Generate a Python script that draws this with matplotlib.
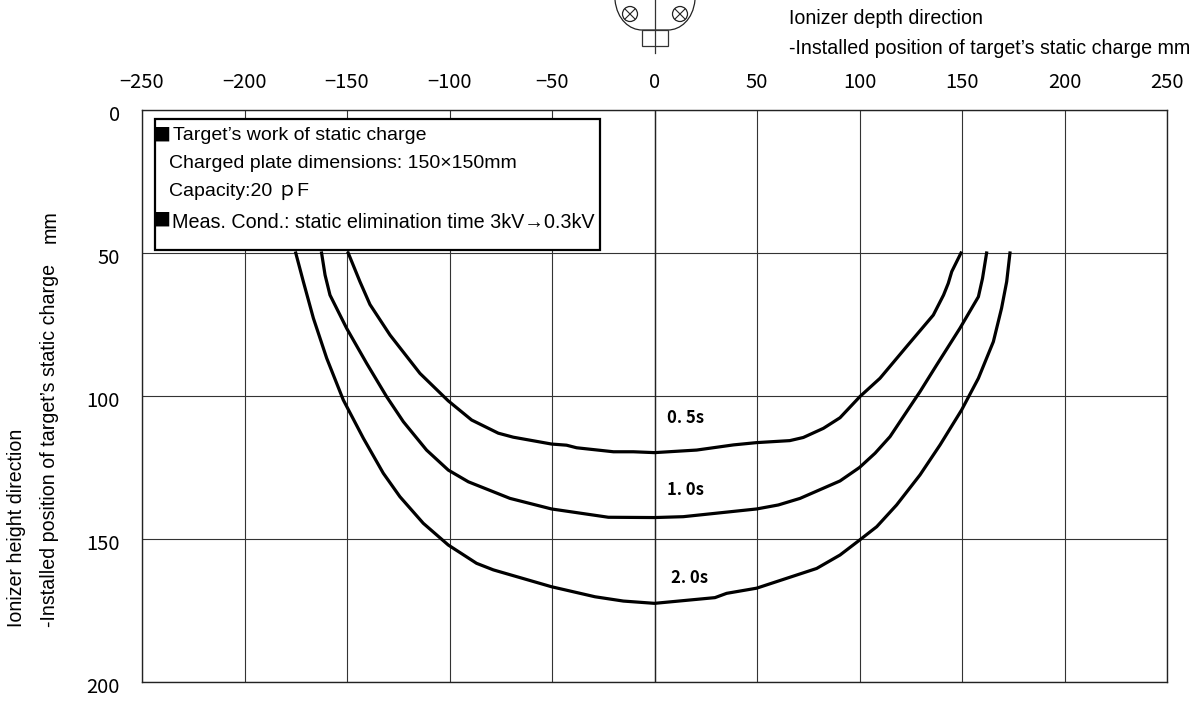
import matplotlib
matplotlib.use("Agg")
from matplotlib import pyplot as plt
from matplotlib.patches import Circle, PathPatch, Rectangle
from matplotlib.path import Path
from matplotlib.transforms import ScaledTranslation

# curves (depth x, height y)
x_05 = [-149.4, -143.7, -138.8, -129, -114.4, -100.6, -89.2, -76.2, -68.9, -50.2, -42.9, -38, -20, -10.3, 0, 20.6, 38.5, 49.8, 66, 72.6, 82.4, 90.5, 100.2, 110, 123, 136, 141, 143.3, 145, 149.5]
y_05 = [50, 60, 68, 78.7, 92.1, 101.7, 108.4, 113, 114.4, 116.8, 117.2, 118.1, 119.5, 119.5, 119.8, 118.9, 117.1, 116.3, 115.6, 114.5, 111.3, 107.6, 100.2, 93.8, 82.7, 71.7, 64.7, 60.6, 56.5, 50]

x_10 = [-162.4, -160.7, -158.3, -150.2, -140.4, -130.7, -122.5, -111.2, -100.6, -90.8, -70.5, -50.2, -22.5, 0, 14, 49.8, 60.4, 71, 90.5, 100, 107.6, 114.9, 121.4, 129.5, 137.6, 149, 158, 160, 162]
y_10 = [50, 57.7, 64.7, 76.3, 88.6, 100.2, 109, 118.9, 125.9, 130, 135.8, 139.5, 142.4, 142.5, 142.2, 139.5, 138.1, 135.8, 129.7, 125, 120, 114.2, 107.2, 98.5, 89.2, 76.3, 65.3, 58.9, 50]

x_20 = [-175, -171.3, -166.4, -159.9, -151.8, -142, -132.3, -124.2, -112.8, -100.6, -86.8, -78.6, -50.2, -29, -15.2, 0, 29.5, 35.2, 49.8, 79.1, 90.5, 100, 108.4, 118.1, 129.5, 139.3, 149.8, 158, 165.3, 169.3, 171.8, 173.4]
y_20 = [50, 60, 72.8, 86.8, 101.4, 114.8, 127, 135.2, 144.5, 152.1, 158.5, 160.8, 166.7, 170.2, 171.7, 172.5, 170.5, 169, 167.2, 160.3, 155.6, 150.4, 145.7, 138.1, 127.6, 117.1, 104.9, 93.8, 81, 69.3, 60, 50]

x_ticks = [-250, -200, -150, -100, -50, 0, 50, 100, 150, 200, 250]
y_ticks = [0, 50, 100, 150, 200]
curve_labels = ["0. 5s", "1. 0s", "2. 0s"]

sans = ["Liberation Sans", "DejaVu Sans"]
gothic = ["Noto Sans CJK JP", "DejaVu Sans"]

fig = plt.figure(figsize=(12, 7.02), dpi=100)
ax = fig.add_axes([142 / 1200, 1 - 682 / 702, (1167 - 142) / 1200, (682 - 110) / 702])
ax.set_xlim(-250, 250)
ax.set_ylim(200, 0)
ax.xaxis.tick_top()
ax.set_xticks(x_ticks)
ax.set_yticks(y_ticks)
ax.tick_params(length=0, labelsize=14.5)
ax.tick_params(axis="x", pad=12.5)
ax.tick_params(axis="y", pad=16)
shift = ScaledTranslation(0, -2 / 72, fig.dpi_scale_trans)
for t in ax.get_xticklabels() + ax.get_yticklabels():
    t.set_family(gothic)
for t in ax.get_yticklabels():
    t.set_transform(t.get_transform() + shift)
ax.grid(color="#333333", linewidth=0.8)
ax.axvline(0, color="#222222", linewidth=1.0)
for s in ax.spines.values():
    s.set_linewidth(1.0)
    s.set_color("#222222")

ax.plot(x_05, y_05, color="black", linewidth=2.3)
ax.plot(x_10, y_10, color="black", linewidth=2.3)
ax.plot(x_20, y_20, color="black", linewidth=2.3)

ax.text(6, 107.7, curve_labels[0], fontsize=12, fontweight="bold", family=gothic, va="center")
ax.text(6, 133, curve_labels[1], fontsize=12, fontweight="bold", family=gothic, va="center")
ax.text(8, 163.7, curve_labels[2], fontsize=12, fontweight="bold", family=gothic, va="center")

# overlay in pixels for the box, the ionizer sketch and the labels
ov = fig.add_axes([0, 0, 1, 1])
ov.set_xlim(0, 1200)
ov.set_ylim(702, 0)
ov.axis("off")

ov.add_patch(Rectangle((155, 119), 445, 131, facecolor="white", edgecolor="black", linewidth=1.6))
box_font = ["Liberation Sans", "Noto Sans CJK JP", "DejaVu Sans"]
ov.text(152, 136, "■", fontsize=13, family=gothic, va="center")
ov.text(173, 136, "Target’s work of static charge", fontsize=14, family=box_font, va="center")
ov.text(169, 163, "Charged plate dimensions: 150×150mm", fontsize=14, family=box_font, va="center")
ov.text(169, 191, "Capacity:20 ｐF", fontsize=14, family=box_font, va="center")
ov.text(152, 221, "■", fontsize=13, family=gothic, va="center")
ov.text(172, 222, "Meas. Cond.: static elimination time 3kV→0.3kV", fontsize=14.2, family=box_font, va="center")

ov.text(17, 627, "Ionizer height direction", rotation=90, fontsize=14.1, family=sans, ha="center", va="bottom")
ov.text(50, 627, "-Installed position of target’s static charge", rotation=90, fontsize=14.1, family=sans, ha="center", va="bottom")
ov.text(50, 210, "mm", rotation=90, fontsize=14.1, family=sans, ha="center", va="top")
ov.text(789, 18, "Ionizer depth direction", fontsize=14.1, family=sans, va="center")
ov.text(789, 48, "-Installed position of target’s static charge mm", fontsize=14.1, family=sans, va="center")

# ionizer sketch
body = Path([(615, 0), (617, 20), (630, 30), (642, 30), (668, 30), (680, 30), (693, 20), (695, 0)],
            [Path.MOVETO, Path.CURVE4, Path.CURVE4, Path.CURVE4, Path.LINETO, Path.CURVE4, Path.CURVE4, Path.CURVE4])
ov.add_patch(PathPatch(body, facecolor="none", edgecolor="#222222", linewidth=0.9))
ov.add_patch(Rectangle((642, 30), 26, 16, facecolor="none", edgecolor="#333333", linewidth=0.9))
ov.plot([654.5, 654.5], [0, 53], color="#333333", linewidth=0.9)
for cx in (630, 680):
    ov.add_patch(Circle((cx, 14), 7.5, facecolor="none", edgecolor="#222222", linewidth=0.9))
    ov.plot([cx - 5, cx + 5], [9, 19], color="#222222", linewidth=0.8)
    ov.plot([cx - 5, cx + 5], [19, 9], color="#222222", linewidth=0.8)

fig.savefig("out.png", dpi=100)
